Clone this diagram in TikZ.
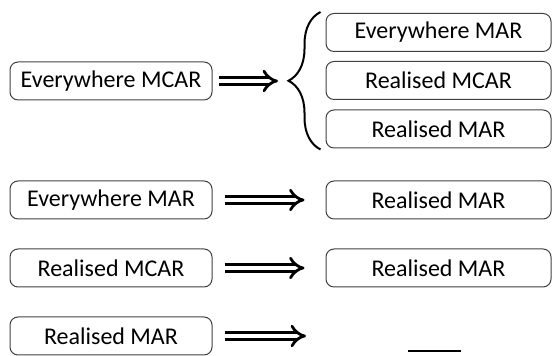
\documentclass[tikz,border=0pt]{standalone}
\usepackage{fontspec}
\setmainfont{Carlito}
\usepackage{tikz}
\usetikzlibrary{arrows.meta,calc,positioning,decorations.pathreplacing}

\begin{document}
\begin{tikzpicture}[x=0.5pt,y=-0.5pt,
		font=\fontsize{12}{14}\selectfont,
		mbox/.style={draw=black!75,line width=0.5pt,rounded corners=4pt,minimum height=19pt,inner sep=0pt},
		lbox/.style={mbox,minimum width=101pt},
		rbox/.style={mbox,minimum width=112.5pt},
		impl/.style={double,double distance=2.3pt,line width=1.4pt,-{Implies},shorten <=6pt,shorten >=10.5pt},
		curly/.style={decorate,decoration={brace,amplitude=16pt},line width=1pt}]
		\useasboundingbox (0,0) rectangle (552,356);
		% first row: one box splits into three
		\node[lbox] (ev_mcar) at (111,81) {Everywhere MCAR};
		\node[rbox] (ev_mar_a) at (438.5,32.5) {Everywhere MAR};
		\node[rbox] (re_mcar_a) at (438.5,80.5) {Realised MCAR};
		\node[rbox] (re_mar_a) at (438.5,129) {Realised MAR};
		\draw[curly] ([xshift=-2.5pt,yshift=-0.5pt]re_mar_a.south west) -- ([xshift=-2.5pt,yshift=0.5pt]ev_mar_a.north west) coordinate (brace top);
		\coordinate (brace tip) at (290,81);
		\draw[impl,shorten <=3pt,shorten >=6pt] (ev_mcar.east) -- (brace tip);
		% remaining rows
		\node[lbox] (ev_mar) at (111,200) {Everywhere MAR};
		\node[rbox] (re_mar_b) at (438.5,200) {Realised MAR};
		\draw[impl] (ev_mar.east) -- (re_mar_b.west);
		\node[lbox] (re_mcar) at (111,268) {Realised MCAR};
		\node[rbox] (re_mar_c) at (438.5,268) {Realised MAR};
		\draw[impl] (re_mcar.east) -- (re_mar_c.west);
		\node[lbox] (re_mar) at (111,336) {Realised MAR};
		\coordinate (nothing) at (327,336);
		\draw[impl] (re_mar.east) -- (nothing);
		\node[inner sep=0pt] (none) at (434.5,351) {\rule{26.5pt}{1pt}};
	\end{tikzpicture}
\end{document}
